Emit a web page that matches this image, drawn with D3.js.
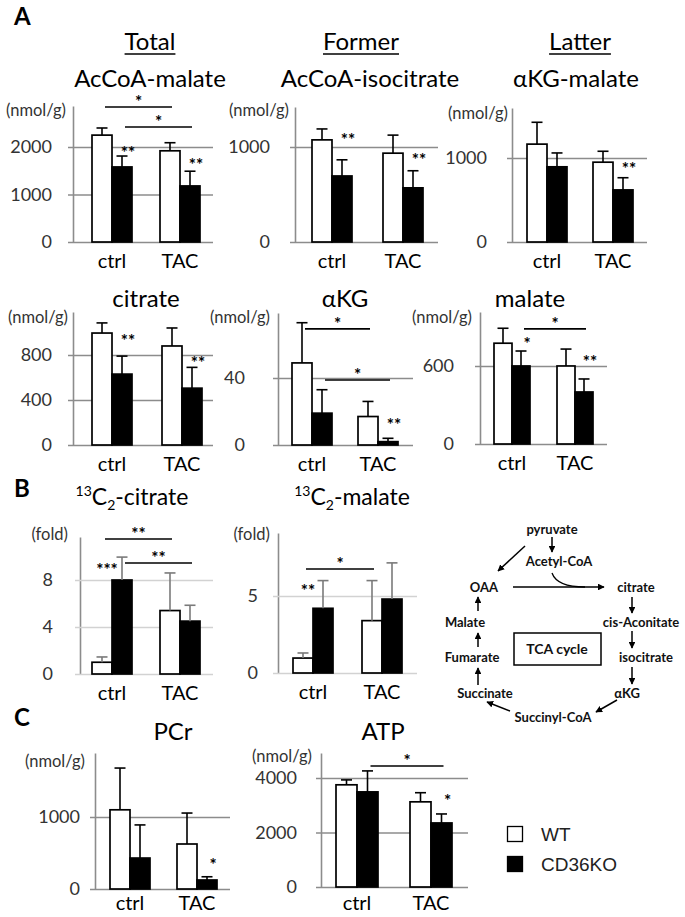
<!DOCTYPE html>
<html>
<head>
<meta charset="utf-8" />
<title>TCA metabolites</title>
<script src="https://cdnjs.cloudflare.com/ajax/libs/d3/7.8.5/d3.min.js"></script>
<style>
  body { margin: 0; background: #fff; }
  svg { display: block; font-family: Lato, "Open Sans", sans-serif; }
</style>
</head>
<body>
<svg width="685" height="917"></svg>
<script>
var groups = ["ctrl", "TAC"];

// A - total / former / latter
var acmWT = [2250, 1920], acmWTsd = [150, 170], acmKO = [1580, 1180], acmKOsd = [230, 310];
var aciWT = [1075, 935], aciWTsd = [115, 190], aciKO = [695, 570], aciKOsd = [170, 180];
var akmWT = [1165, 950], akmWTsd = [260, 130], akmKO = [895, 620], akmKOsd = [165, 145];
var citWT = [995, 880], citWTsd = [90, 160], citKO = [630, 505], citKOsd = [160, 185];
var akgWT = [49, 17], akgWTsd = [24, 9], akgKO = [19, 2], akgKOsd = [14, 2];
var malWT = [775, 600], malWTsd = [115, 130], malKO = [600, 400], malKOsd = [115, 100];
// B - 13C2 enrichment (fold)
var c13citWT = [1.0, 5.4], c13citWTsd = [0.45, 3.2], c13citKO = [8.0, 4.5], c13citKOsd = [1.95, 1.35];
var c13malWT = [0.97, 3.4], c13malWTsd = [0.33, 2.6], c13malKO = [4.2, 4.8], c13malKOsd = [1.8, 2.35];
// C - energy
var pcrWT = [1100, 625], pcrWTsd = [580, 430], pcrKO = [430, 125], pcrKOsd = [460, 45];
var atpWT = [3750, 3125], atpWTsd = [180, 335], atpKO = [3490, 2350], atpKOsd = [770, 330];

// significance marks
var acmBr = [{a: ["ctrl", "wt"], b: ["TAC", "wt"], v: 2842, t: "*"}, {a: ["ctrl", "ko"], b: ["TAC", "ko"], v: 2421, t: "*"}];
var acmSt = [{g: "ctrl", v: 1937, t: "**"}, {g: "TAC", v: 1684, t: "**"}];
var aciSt = [{g: "ctrl", v: 1105, t: "**"}, {g: "TAC", v: 895, t: "**"}];
var akmSt = [{g: "TAC", v: 905, t: "**"}];
var citSt = [{g: "ctrl", v: 951, t: "**"}, {g: "TAC", v: 756, t: "**"}];
var akgBr = [{a: ["ctrl", "wt"], b: ["TAC", "wt"], v: 69.3, t: "*"}, {a: ["ctrl", "ko"], b: ["TAC", "ko"], v: 38.8, t: "*"}];
var akgSt = [{g: "TAC", v: 13.7, t: "**"}];
var malBr = [{a: ["ctrl", "ko"], b: ["TAC", "ko"], v: 885, t: "*"}];
var malSt = [{g: "ctrl", v: 792, t: "*"}, {g: "TAC", v: 654, t: "**"}];
var c13citBr = [{a: ["ctrl", "wt"], b: ["TAC", "wt"], v: 11.49, t: "**"}, {a: ["ctrl", "ko"], b: ["TAC", "ko"], v: 9.45, t: "**"}];
var c13citSt = [{g: "ctrl", v: 9.1, t: "***", left: true}];
var c13malBr = [{a: ["ctrl", "wt"], b: ["TAC", "wt"], v: 6.75, t: "*"}];
var c13malSt = [{g: "ctrl", v: 5.52, t: "**", left: true}];
var pcrSt = [{g: "TAC", v: 375, t: "*"}];
var atpBr = [{a: ["ctrl", "ko"], b: ["TAC", "ko"], v: 4440, t: "*"}];
var atpSt = [{g: "TAC", v: 3266, t: "*"}];

var svg = d3.select("svg");

var panels = [
  {title: "AcCoA-malate", tx: 150, ty: 87, unit: "(nmol/g)", ux: 66, uy: 110, ax: 73, right: 213, y0: 242, y1: 106, max: 2863, ticks: [0, 1000, 2000], pad: 21, gx: [112, 180],
   wt: acmWT, wtSd: acmWTsd, ko: acmKO, koSd: acmKOsd, br: acmBr, st: acmSt},
  {title: "AcCoA-isocitrate", tx: 370, ty: 87, unit: "(nmol/g)", ux: 289, uy: 110, ax: 295, right: 438, y0: 242, y1: 107, max: 1421, ticks: [0, 1000], pad: 25, gx: [332, 403],
   wt: aciWT, wtSd: aciWTsd, ko: aciKO, koSd: aciKOsd, br: [], st: aciSt},
  {title: "\u03b1KG-malate", tx: 576, ty: 87, unit: "(nmol/g)", ux: 508, uy: 113, ax: 512, right: 647, y0: 242, y1: 108, max: 1595, ticks: [0, 1000], pad: 25, gx: [547, 613],
   wt: akmWT, wtSd: akmWTsd, ko: akmKO, koSd: akmKOsd, br: [], st: akmSt},
  {title: "citrate", tx: 146, ty: 307, unit: "(nmol/g)", ux: 68, uy: 317, ax: 73, right: 213, y0: 445, y1: 312, max: 1182, ticks: [0, 400, 800], pad: 21, gx: [112, 182],
   wt: citWT, wtSd: citWTsd, ko: citKO, koSd: citKOsd, br: [], st: citSt},
  {title: "\u03b1KG", tx: 345, ty: 307, unit: "(nmol/g)", ux: 270, uy: 317, ax: 278, right: 413, y0: 445, y1: 313, max: 78.8, ticks: [0, 40], pad: 33, gx: [312, 378],
   wt: akgWT, wtSd: akgWTsd, ko: akgKO, koSd: akgKOsd, br: akgBr, st: akgSt},
  {title: "malate", tx: 530, ty: 307, unit: "(nmol/g)", ux: 472, uy: 317, ax: 480, right: 607, y0: 444, y1: 312, max: 1015, ticks: [0, 600], pad: 26, gx: [512, 575], bw: 18,
   wt: malWT, wtSd: malWTsd, ko: malKO, koSd: malKOsd, br: malBr, st: malSt},
  {iso: "-citrate", tx: 132, ty: 505, unit: "(fold)", ux: 68, uy: 534, ax: 80, right: 213, y0: 674, y1: 537, max: 11.66, ticks: [0, 4, 8], pad: 27, gx: [112, 180], light: true,
   wt: c13citWT, wtSd: c13citWTsd, ko: c13citKO, koSd: c13citKOsd, br: c13citBr, st: c13citSt},
  {iso: "-malate", tx: 352, ty: 505, unit: "(fold)", ux: 270, uy: 534, ax: 278, right: 417, y0: 673, y1: 533, max: 9.09, ticks: [0, 5], pad: 20, gx: [313, 382], light: true,
   wt: c13malWT, wtSd: c13malWTsd, ko: c13malKO, koSd: c13malKOsd, br: c13malBr, st: c13malSt},
  {title: "PCr", tx: 173, ty: 740, unit: "(nmol/g)", ux: 85, uy: 761, ax: 95, right: 230, y0: 889, y1: 753, max: 1889, ticks: [0, 1000], pad: 15, gx: [130, 197],
   wt: pcrWT, wtSd: pcrWTsd, ko: pcrKO, koSd: pcrKOsd, br: [], st: pcrSt},
  {title: "ATP", tx: 383, ty: 740, unit: "(nmol/g)", ux: 312, uy: 756, ax: 321, right: 468, y0: 887, y1: 753, max: 4917, ticks: [0, 2000, 4000], pad: 24, gx: [357, 431], bw: 21,
   wt: atpWT, wtSd: atpWTsd, ko: atpKO, koSd: atpKOsd, br: atpBr, st: atpSt}
];

function drawPanel(p) {
  var g = svg.append("g");
  var w = p.bw || 20;
  var y = d3.scaleLinear().domain([0, p.max]).range([p.y0, p.y1]);
  var x = d3.scalePoint().domain(groups).range(p.gx);

  var axis = d3.axisLeft(y)
      .tickValues(p.ticks)
      .tickSizeInner(-(p.right - p.ax))
      .tickSizeOuter(0)
      .tickPadding(p.pad)
      .tickFormat(d3.format("d"));

  var ag = g.append("g")
      .attr("transform", "translate(" + p.ax + ",0)")
      .call(axis)
      .attr("font-family", null)
      .attr("font-size", null);
  ag.selectAll(".tick line")
      .attr("x1", -5)
      .attr("stroke", p.light ? "#d2d2d2" : "#8c8c8c")
      .attr("stroke-width", 1.4);
  ag.select(".domain").attr("stroke", "#8c8c8c").attr("stroke-width", 1.6);
  ag.selectAll(".tick text").attr("fill", "#333").style("font-size", "18px");

  // title
  var t = g.append("text")
      .attr("x", p.tx)
      .attr("y", p.ty)
      .attr("text-anchor", "middle")
      .style("font-size", "24px")
      .attr("fill", "#000");
  if (p.iso) {
    t.style("font-size", "23px");
    t.append("tspan").style("font-size", "14px").attr("dy", -9).text("13");
    t.append("tspan").attr("dy", 9).text("C");
    t.append("tspan").style("font-size", "14px").attr("dy", 5).text("2");
    t.append("tspan").attr("dy", -5).text(p.iso);
  } else {
    t.text(p.title);
  }

  g.append("text")
      .attr("x", p.ux)
      .attr("y", p.uy)
      .attr("dy", "0.35em")
      .attr("text-anchor", "end")
      .style("font-size", "16.5px")
      .attr("fill", "#333")
      .text(p.unit);

  g.selectAll(".cat")
      .data(groups)
      .enter()
      .append("text")
      .attr("class", "cat")
      .attr("x", function(d) { return x(d); })
      .attr("y", Math.min(p.y0 + 26, 910))
      .attr("text-anchor", "middle")
      .style("font-size", "20px")
      .attr("fill", "#000")
      .text(function(d) { return d; });

  var series = [
    {key: "wt", v: p.wt, sd: p.wtSd, fill: "#fff"},
    {key: "ko", v: p.ko, sd: p.koSd, fill: "#000"}
  ];
  function cx(grp, key) {
    return x(grp) + (key == "wt" ? -w / 2 : w / 2);
  }

  series.forEach(function(s) {
    var rows = groups.map(function(grp, i) { return {g: grp, v: s.v[i], sd: s.sd[i]}; });

    g.selectAll(".bar-" + s.key)
        .data(rows)
        .enter()
        .append("rect")
        .attr("x", function(d) { return cx(d.g, s.key) - w / 2; })
        .attr("y", function(d) { return y(d.v); })
        .attr("width", w)
        .attr("height", function(d) { return y(0) - y(d.v); })
        .attr("fill", s.fill)
        .attr("stroke", "#000")
        .attr("stroke-width", 1.7);

    var eb = g.selectAll(".err-" + s.key)
        .data(rows)
        .enter()
        .append("g")
        .attr("stroke", p.light ? "#7a7a7a" : "#000")
        .attr("stroke-width", 1.6);
    eb.append("line")
        .attr("x1", function(d) { return cx(d.g, s.key); })
        .attr("x2", function(d) { return cx(d.g, s.key); })
        .attr("y1", function(d) { return y(d.v); })
        .attr("y2", function(d) { return y(d.v + d.sd); });
    eb.append("line")
        .attr("x1", function(d) { return cx(d.g, s.key) - 5.5; })
        .attr("x2", function(d) { return cx(d.g, s.key) + 5.5; })
        .attr("y1", function(d) { return y(d.v + d.sd); })
        .attr("y2", function(d) { return y(d.v + d.sd); });
  });

  p.br.forEach(function(b) {
    var x1 = cx(b.a[0], b.a[1]) + 3, x2 = cx(b.b[0], b.b[1]) + 2;
    g.append("line")
        .attr("x1", x1).attr("x2", x2)
        .attr("y1", y(b.v)).attr("y2", y(b.v))
        .attr("stroke", "#000")
        .attr("stroke-width", 1.6);
    g.append("text")
        .attr("x", (x1 + x2) / 2)
        .attr("y", y(b.v) - 8)
        .attr("dy", "0.55em")
        .attr("text-anchor", "middle")
        .attr("fill", "#000")
        .style("font-size", "17px")
        .style("font-weight", "bold")
        .text(b.t);
  });

  p.st.forEach(function(s) {
    g.append("text")
        .attr("x", s.left ? cx(s.g, "wt") + 5 : cx(s.g, "ko") + 6)
        .attr("y", y(s.v))
        .attr("dy", "0.55em")
        .attr("text-anchor", "middle")
        .attr("fill", "#000")
        .style("font-size", "17px")
        .style("font-weight", "bold")
        .text(s.t);
  });
}

panels.forEach(drawPanel);

// section headings
var heads = [{t: "Total", x: 150}, {t: "Former", x: 361}, {t: "Latter", x: 580}];
heads.forEach(function(h) {
  var tx = svg.append("text")
      .attr("x", h.x)
      .attr("y", 50)
      .attr("text-anchor", "middle")
      .style("font-size", "24px")
      .text(h.t);
  var len = tx.node().getComputedTextLength();
  svg.append("line")
      .attr("x1", h.x - len / 2).attr("x2", h.x + len / 2)
      .attr("y1", 54).attr("y2", 54)
      .attr("stroke", "#000").attr("stroke-width", 1.6);
});

// panel letters
[{t: "A", y: 25}, {t: "B", y: 497}, {t: "C", y: 726}].forEach(function(l) {
  svg.append("text")
      .attr("x", 14)
      .attr("y", l.y)
      .style("font-size", "24px")
      .style("font-weight", "bold")
      .text(l.t);
});

// TCA cycle diagram
svg.append("defs").append("marker")
    .attr("id", "arr")
    .attr("viewBox", "0 0 10 10")
    .attr("refX", 9).attr("refY", 5)
    .attr("markerWidth", 4.5).attr("markerHeight", 4.5)
    .attr("orient", "auto")
    .append("path")
    .attr("d", "M0,0L10,5L0,10z")
    .attr("fill", "#000");

var tca = svg.append("g").style("font-size", "13px").style("font-weight", "bold").attr("fill", "#111");
var tcaLabels = [
  ["pyruvate", 552, 529], ["Acetyl-CoA", 559, 561], ["OAA", 484, 587], ["citrate", 636, 587],
  ["cis-Aconitate", 641, 622], ["isocitrate", 646, 657], ["\u03b1KG", 627, 693], ["Succinyl-CoA", 553, 717],
  ["Succinate", 485, 693], ["Fumarate", 472, 657], ["Malate", 465, 622]
];
tcaLabels.forEach(function(d) {
  tca.append("text")
      .attr("x", d[1]).attr("y", d[2])
      .attr("dy", "0.35em")
      .attr("text-anchor", "middle")
      .text(d[0]);
});
var tcaArrows = [
  [552, 537, 552, 552], [525, 546, 498, 571], [513, 587, 604, 587],
  [632, 597, 632, 613], [632, 631, 632, 648], [632, 667, 632, 684],
  [617, 700, 596, 712], [510, 711, 487, 702],
  [478, 685, 478, 668], [478, 647, 478, 633], [478, 611, 478, 597]
];
tcaArrows.forEach(function(a) {
  tca.append("line")
      .attr("x1", a[0]).attr("y1", a[1]).attr("x2", a[2]).attr("y2", a[3])
      .attr("stroke", "#000").attr("stroke-width", 1.5)
      .attr("marker-end", "url(#arr)");
});
tca.append("path")
    .attr("d", "M552,573 Q557,587 585,587")
    .attr("fill", "none").attr("stroke", "#000").attr("stroke-width", 1.3);
tca.append("rect")
    .attr("x", 514).attr("y", 633).attr("width", 87).attr("height", 32)
    .attr("fill", "none").attr("stroke", "#000").attr("stroke-width", 1.5);
tca.append("text")
    .attr("x", 557).attr("y", 649).attr("dy", "0.35em")
    .attr("text-anchor", "middle").style("font-size", "14px")
    .text("TCA cycle");

// legend
var legend = [{name: "WT", fill: "#fff"}, {name: "CD36KO", fill: "#000"}];
var lg = svg.append("g").attr("transform", "translate(507,826)");
lg.selectAll("rect")
    .data(legend)
    .enter()
    .append("rect")
    .attr("x", 0.5)
    .attr("y", function(d, i) { return i * 30 + 0.5; })
    .attr("width", 15).attr("height", 15)
    .attr("fill", function(d) { return d.fill; })
    .attr("stroke", "#000").attr("stroke-width", 1.3);
lg.selectAll("text")
    .data(legend)
    .enter()
    .append("text")
    .attr("x", 34)
    .attr("y", function(d, i) { return i * 30 + 8; })
    .attr("dy", "0.35em")
    .style("font-family", "'Liberation Sans', Arial, sans-serif")
    .style("font-size", "19px")
    .attr("fill", "#222")
    .text(function(d) { return d.name; });
</script>
</body>
</html>
